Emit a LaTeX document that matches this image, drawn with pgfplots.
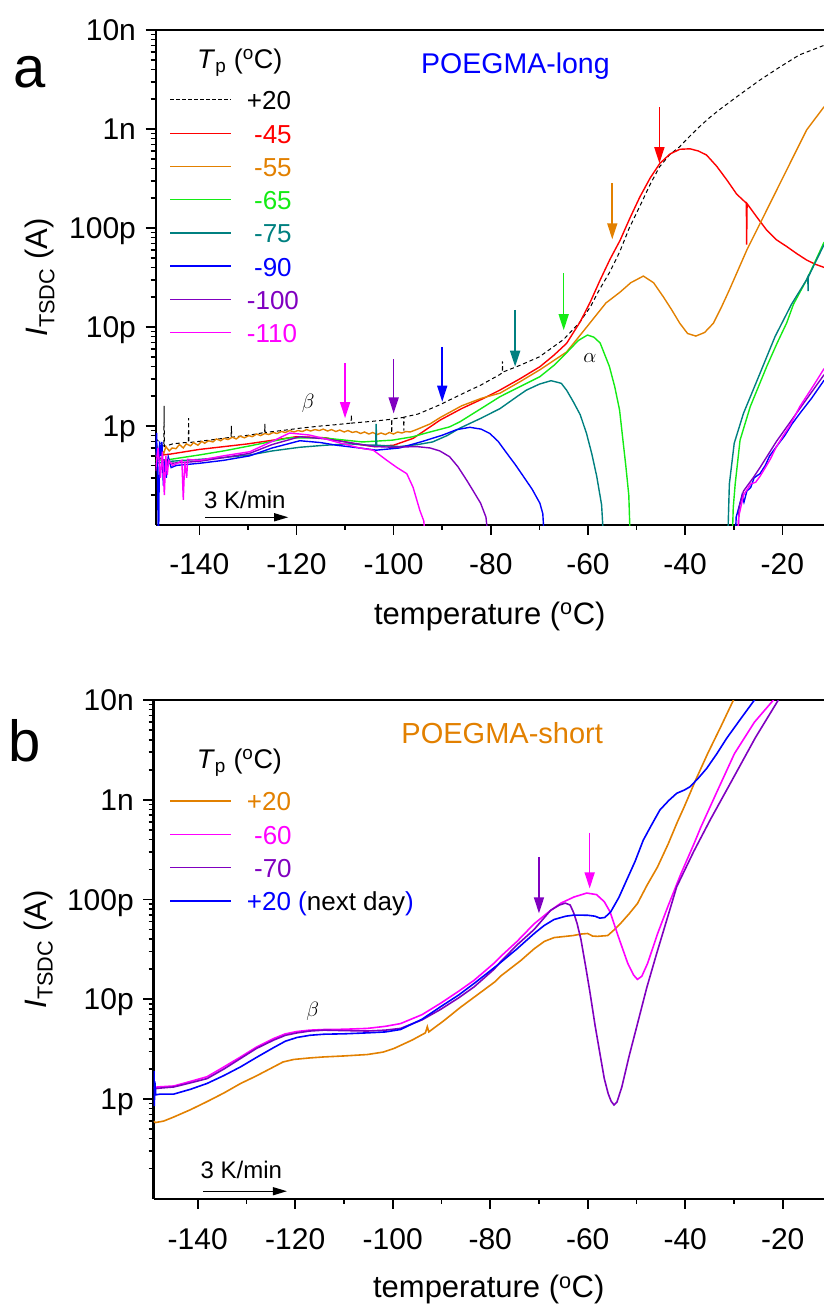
\documentclass[border=0pt]{standalone}
\usepackage{fontspec}
\setmainfont{Liberation Sans}
\usepackage{pgfplots}
\pgfplotsset{compat=1.18}
\usetikzlibrary{arrows.meta}
\definecolor{cred}{RGB}{255,0,0}
\definecolor{corange}{RGB}{226,128,0}
\definecolor{cgreen}{RGB}{20,235,20}
\definecolor{cteal}{RGB}{0,128,128}
\definecolor{cblue}{RGB}{0,0,255}
\definecolor{cpurple}{RGB}{128,0,192}
\definecolor{cmagenta}{RGB}{255,0,255}
\begin{document}
\begin{tikzpicture}[x=1pt,y=1pt]
\useasboundingbox (0,0) rectangle (824,1309);
% ================= panel a =================
\begin{axis}[at={(155.6pt,784pt)}, anchor=south west,
  width=668.4pt, height=495pt, xmin=-149, xmax=-11.42,
  scale only axis, ymode=log, ymin=1e-13, ymax=1e-8,
  axis x line=box, axis y line=left,
  axis line style={-, line width=2.2pt},
  xtick pos=left, xticklabel pos=left,
  xtick={-140,-120,-100,-80,-60,-40,-20},
  minor xtick={-130,-110,-90,-70,-50,-30},
  ytick={1e-12,1e-11,1e-10,1e-9,1e-8},
  yticklabels={1p,10p,100p,1n,10n},
  minor ytick={2e-13,3e-13,4e-13,5e-13,6e-13,7e-13,8e-13,9e-13,
               2e-12,3e-12,4e-12,5e-12,6e-12,7e-12,8e-12,9e-12,
               2e-11,3e-11,4e-11,5e-11,6e-11,7e-11,8e-11,9e-11,
               2e-10,3e-10,4e-10,5e-10,6e-10,7e-10,8e-10,9e-10,
               2e-9,3e-9,4e-9,5e-9,6e-9,7e-9,8e-9,9e-9},
  tick align=outside,
  major tick length=10pt, minor tick length=5pt,
  major tick style={black, line width=1.6pt},
  minor tick style={black, line width=1.6pt},
  /pgf/number format/assume math mode=true,
  tick label style={font=\fontsize{30}{36}\selectfont},
  xticklabel style={anchor=base, inner sep=0pt, yshift=-40pt},
  yticklabel style={anchor=east, inner sep=0pt, text height=21.5pt, text depth=0pt, xshift=-9.5pt},
  xlabel={temperature (\textsuperscript{o}C)},
  ylabel={\textit{I}\textsubscript{TSDC} (A)},
  label style={font=\fontsize{31}{37}\selectfont},
  ylabel style={at={(axis description cs:-0.173,0.5)}, anchor=center},
  xlabel style={at={(axis description cs:0.5,-0.2)}, anchor=base},
  every axis plot/.append style={line width=1.4pt}]
\addplot[black, line width=1pt, dash pattern=on 4pt off 3pt] coordinates {
(-149,0.75e-12)(-147.3,0.62e-12)(-147.25,1.6e-12)(-147.2,0.62e-12)(-145.5,0.66e-12)(-143,0.68e-12)(-142.25,0.68e-12)(-142.2,1.2e-12)(-142.15,0.68e-12)
(-140,0.7e-12)(-136,0.74e-12)(-133.45,0.77e-12)(-133.4,1.0e-12)(-133.35,0.77e-12)(-129.6,0.81e-12)(-126.55,0.86e-12)(-126.5,1.05e-12)(-126.45,0.86e-12)
(-123,0.9e-12)(-119.3,0.95e-12)(-115,1.0e-12)(-112,1.03e-12)(-108.75,1.07e-12)(-108.7,1.3e-12)(-108.65,1.07e-12)(-104,1.12e-12)
(-100.45,1.17e-12)(-100.4,0.85e-12)(-100.35,1.18e-12)(-97.95,1.22e-12)(-97.9,0.9e-12)(-97.85,1.23e-12)(-95,1.32e-12)(-90.6,1.63e-12)
(-86,2.1e-12)(-82,2.6e-12)(-78.2,3.3e-12)(-77.65,3.45e-12)(-77.6,4.5e-12)(-77.55,3.5e-12)(-74,4.1e-12)(-70,5.0e-12)(-65,7.5e-12)(-61.8,11e-12)
(-59.5,16e-12)(-57.7,23.6e-12)(-55.5,36e-12)(-53.5,57e-12)(-51.5,100e-12)(-49.4,163e-12)(-47.3,270e-12)(-45.3,413e-12)
(-43.2,550e-12)(-41.2,658e-12)(-39,850e-12)(-37.1,1.05e-9)(-35,1.3e-9)(-33,1.56e-9)(-28.9,2.2e-9)(-24.7,3.1e-9)(-20.6,4.2e-9)
(-16.5,5.6e-9)(-11.4,7.0e-9)};
\addplot[cred] coordinates {
(-149,0.5e-12)(-146,0.52e-12)(-140,0.58e-12)(-130,0.66e-12)(-120,0.78e-12)(-114,0.76e-12)(-108,0.66e-12)(-104,0.62e-12)
(-100,0.64e-12)(-96,0.75e-12)(-90.4,1.15e-12)(-86,1.5e-12)(-82,1.85e-12)(-78.1,2.31e-12)(-74,3.0e-12)(-69.9,3.97e-12)
(-67,5.2e-12)(-64.4,6.84e-12)(-61.6,11.3e-12)(-59.5,18e-12)(-57.5,29.8e-12)(-55.5,48e-12)(-53.4,75e-12)(-51.4,125e-12)
(-49.3,207e-12)(-47.2,320e-12)(-45.2,450e-12)(-43.1,560e-12)(-41.1,624e-12)(-39.0,631e-12)(-37.3,600e-12)(-35.6,546e-12)
(-33.5,420e-12)(-31.4,305e-12)(-29.4,220e-12)(-27.4,178e-12)(-27.35,68e-12)(-27.25,176e-12)(-25.3,130e-12)(-23.2,95e-12)
(-21.2,76e-12)(-19.1,65e-12)(-17,55e-12)(-15.0,47.5e-12)(-13.2,43e-12)(-11.4,40e-12)};
\addplot[corange] coordinates {
(-149,0.5e-12)(-148.6,0.6e-12)(-148.2,0.49e-12)(-147.8,0.58e-12)(-147.3,0.53e-12)(-146.9,0.62e-12)(-146.2,0.56e-12)(-145.6,0.6e-12)
(-144.8,0.59e-12)(-144.1,0.65e-12)(-143.3,0.6e-12)(-142.7,0.66e-12)(-141.8,0.63e-12)(-141.2,0.68e-12)(-140.3,0.64e-12)(-139.5,0.7e-12)
(-138.9,0.67e-12)(-138.1,0.71e-12)(-137.2,0.69e-12)(-136.5,0.74e-12)(-135.6,0.71e-12)(-134.9,0.75e-12)(-134.1,0.73e-12)(-133.2,0.77e-12)
(-132.4,0.74e-12)(-131.6,0.79e-12)(-130.7,0.76e-12)(-129.8,0.8e-12)(-129.1,0.78e-12)(-128.2,0.83e-12)(-127.4,0.8e-12)(-126.5,0.84e-12)
(-125.7,0.82e-12)(-124.8,0.86e-12)(-124,0.84e-12)(-123.1,0.88e-12)(-122.3,0.86e-12)(-121.4,0.9e-12)(-120.5,0.87e-12)(-119.7,0.9e-12)
(-118.8,0.88e-12)(-117.9,0.92e-12)(-117.1,0.89e-12)(-116.2,0.92e-12)(-115.3,0.9e-12)(-114.5,0.93e-12)(-113.6,0.89e-12)(-112.8,0.92e-12)
(-111.9,0.88e-12)(-111.1,0.91e-12)(-110.2,0.87e-12)(-109.4,0.9e-12)(-108.5,0.86e-12)(-107.7,0.88e-12)(-106.8,0.84e-12)(-106,0.87e-12)
(-105.1,0.83e-12)(-104.3,0.86e-12)(-103.4,0.82e-12)(-102.6,0.85e-12)(-101.7,0.82e-12)(-100.9,0.86e-12)(-100,0.83e-12)(-99.2,0.87e-12)
(-98.3,0.85e-12)(-97.5,0.88e-12)(-96.6,0.87e-12)(-95.3,0.92e-12)(-92.5,1.05e-12)(-90.4,1.22e-12)(-86,1.6e-12)(-82,1.9e-12)(-78.1,2.15e-12)(-74,2.8e-12)(-69.9,3.7e-12)
(-64.4,5.6e-12)(-60.4,9.8e-12)(-56.3,17.5e-12)(-53.4,22.5e-12)(-51.2,28e-12)(-48.6,32.7e-12)(-46.5,28e-12)(-44.5,20.2e-12)
(-42.8,15e-12)(-41.1,10.9e-12)(-39.5,8.6e-12)(-37.8,8.1e-12)(-36.0,8.8e-12)(-34.2,10.9e-12)(-32.5,16e-12)(-30.9,23.7e-12)
(-27.3,60e-12)(-23.2,152e-12)(-19.1,386e-12)(-15.0,977e-12)(-11.4,1.68e-9)};
\addplot[cgreen] coordinates {
(-149,0.45e-12)(-146,0.46e-12)(-140,0.51e-12)(-135,0.56e-12)(-129.6,0.63e-12)(-125,0.7e-12)(-121.4,0.76e-12)(-114.6,0.76e-12)
(-110,0.72e-12)(-106.4,0.69e-12)(-100.2,0.72e-12)(-96,0.78e-12)(-93.3,0.85e-12)(-88.5,0.98e-12)(-86.4,1.1e-12)(-82,1.5e-12)
(-78.1,1.98e-12)(-74,2.5e-12)(-69.9,3.15e-12)(-67,4.1e-12)(-64.4,5.5e-12)(-62,7.3e-12)(-60.1,8.3e-12)(-58.8,7.9e-12)
(-57.5,6.9e-12)(-55.6,4e-12)(-54.5,2.5e-12)(-53.5,1.45e-12)(-52.2,0.39e-12)(-51.6,0.2e-12)(-51.2,0.05e-12)};
\addplot[cteal] coordinates {
(-149,0.42e-12)(-146,0.44e-12)(-140,0.46e-12)(-135,0.48e-12)(-129.6,0.51e-12)(-125,0.56e-12)(-119.3,0.61e-12)(-114,0.64e-12)
(-109,0.66e-12)(-105,0.64e-12)(-103.7,0.64e-12)(-103.6,1.05e-12)(-103.5,0.64e-12)(-98.8,0.62e-12)(-95,0.65e-12)(-92,0.69e-12)
(-89,0.8e-12)(-86.4,0.95e-12)(-82,1.2e-12)(-78.1,1.5e-12)(-74.5,2.0e-12)(-72.7,2.3e-12)(-70,2.65e-12)(-67.6,2.87e-12)
(-65.5,2.7e-12)(-64.4,2.3e-12)(-63,1.75e-12)(-61.6,1.3e-12)(-60.3,0.84e-12)(-59.2,0.52e-12)(-58.2,0.31e-12)(-57.2,0.16e-12)(-56.6,0.05e-12)};
\addplot[cblue] coordinates {
(-149,0.5e-12)(-148.8,0.85e-12)(-148.6,0.3e-12)(-148.4,0.05e-12)(-148.2,0.7e-12)(-147.9,0.5e-12)(-147.7,0.69e-12)(-147.4,0.25e-12)
(-147.1,0.45e-12)(-146.8,0.3e-12)(-146.4,0.49e-12)(-145.8,0.38e-12)(-144.7,0.4e-12)(-140,0.42e-12)(-135,0.45e-12)(-129.6,0.5e-12)
(-125,0.6e-12)(-119.3,0.71e-12)(-115,0.68e-12)(-111.8,0.64e-12)(-107,0.6e-12)(-103.6,0.57e-12)(-98.8,0.6e-12)(-94,0.7e-12)
(-89.9,0.81e-12)(-87,0.92e-12)(-84.3,0.97e-12)(-82,0.93e-12)(-80.2,0.84e-12)(-78.5,0.7e-12)(-76.7,0.53e-12)(-75,0.41e-12)
(-73.3,0.31e-12)(-71.5,0.23e-12)(-69.9,0.166e-12)(-69.3,0.13e-12)(-68.8,0.05e-12)};
\addplot[cpurple] coordinates {
(-149,0.5e-12)(-146,0.42e-12)(-140,0.44e-12)(-135,0.48e-12)(-129.6,0.53e-12)(-125,0.65e-12)(-119.3,0.78e-12)(-114,0.74e-12)
(-109,0.68e-12)(-104,0.62e-12)(-100,0.61e-12)(-95.3,0.62e-12)(-92.5,0.6e-12)(-90.5,0.56e-12)(-88.5,0.49e-12)(-86.8,0.39e-12)
(-85.0,0.285e-12)(-83.6,0.22e-12)(-82.1,0.166e-12)(-81,0.12e-12)(-80.2,0.05e-12)};
\addplot[cmagenta] coordinates {
(-149,0.35e-12)(-148.5,0.6e-12)(-148,0.3e-12)(-147.6,0.55e-12)(-147.2,0.2e-12)(-146.9,0.5e-12)(-146.6,0.32e-12)(-146.3,0.45e-12)
(-145.5,0.4e-12)(-144.5,0.42e-12)(-143.6,0.45e-12)(-143.3,0.18e-12)(-143.0,0.44e-12)(-142.6,0.3e-12)(-142.4,0.46e-12)
(-140,0.45e-12)(-135,0.5e-12)(-129.6,0.55e-12)(-125,0.7e-12)(-121.4,0.85e-12)(-117.3,0.81e-12)(-114,0.74e-12)(-110.4,0.66e-12)
(-107,0.6e-12)(-104.2,0.57e-12)(-101.4,0.45e-12)(-99.3,0.38e-12)(-97.3,0.33e-12)(-96,0.24e-12)(-94.6,0.14e-12)(-93.8,0.11e-12)(-93.2,0.05e-12)};
% ---- right-hand branches
\addplot[cgreen] coordinates {
(-30.4,0.05e-12)(-30.1,0.15e-12)(-29.7,0.26e-12)(-28.7,0.72e-12)(-26.6,1.57e-12)(-23.2,4.0e-12)(-21.0,7e-12)(-19.1,11e-12)
(-17.7,17e-12)(-15.0,30e-12)(-13.6,42e-12)(-11.4,72e-12)};
\addplot[cteal] coordinates {
(-31.3,0.05e-12)(-31.1,0.12e-12)(-30.9,0.26e-12)(-29.9,0.67e-12)(-28.0,1.34e-12)(-24.6,3.4e-12)(-21.5,8e-12)(-18.1,17e-12)
(-15.0,30e-12)(-14.75,32e-12)(-14.7,23e-12)(-14.65,32e-12)(-13.6,41e-12)(-11.4,68e-12)};
\addplot[cblue] coordinates {
(-29.8,0.05e-12)(-29.5,0.12e-12)(-28.8,0.16e-12)(-28.3,0.2e-12)(-27.9,0.17e-12)(-27.3,0.22e-12)(-26.5,0.24e-12)(-25.8,0.3e-12)
(-24.6,0.33e-12)(-23.5,0.4e-12)(-22.6,0.5e-12)(-21.2,0.62e-12)(-19.5,0.8e-12)(-18,1.05e-12)(-16.4,1.34e-12)(-14,1.9e-12)(-11.4,2.9e-12)};
\addplot[cpurple] coordinates {
(-29.2,0.05e-12)(-28.9,0.15e-12)(-28,0.22e-12)(-26,0.3e-12)(-24.6,0.38e-12)(-21.2,0.7e-12)(-16.4,1.5e-12)(-11.4,3.3e-12)};
\addplot[cmagenta] coordinates {
(-29.4,0.05e-12)(-29,0.12e-12)(-28,0.2e-12)(-26.5,0.26e-12)(-25.5,0.27e-12)(-24.6,0.31e-12)(-23.5,0.38e-12)(-22.5,0.46e-12)
(-21.2,0.62e-12)(-19.8,0.8e-12)(-18.5,1.0e-12)(-16.4,1.57e-12)(-13.5,2.6e-12)(-11.4,3.8e-12)};
% arrows
\draw[cmagenta, line width=1.6pt, -{Triangle[length=16pt,width=10pt]}] (axis cs:-110,4.3e-12) -- (axis cs:-110,1.2e-12);
\draw[cpurple, line width=1.6pt, -{Triangle[length=16pt,width=10pt]}] (axis cs:-100,4.75e-12) -- (axis cs:-100,1.34e-12);
\draw[cblue, line width=1.6pt, -{Triangle[length=16pt,width=10pt]}] (axis cs:-90,6.3e-12) -- (axis cs:-90,1.76e-12);
\draw[cteal, line width=1.6pt, -{Triangle[length=16pt,width=10pt]}] (axis cs:-75,14.9e-12) -- (axis cs:-75,3.97e-12);
\draw[cgreen, line width=1.6pt, -{Triangle[length=16pt,width=10pt]}] (axis cs:-65,34.8e-12) -- (axis cs:-65,9.3e-12);
\draw[corange, line width=1.6pt, -{Triangle[length=16pt,width=10pt]}] (axis cs:-55,283e-12) -- (axis cs:-55,76.9e-12);
\draw[cred, line width=1.6pt, -{Triangle[length=16pt,width=10pt]}] (axis cs:-45.3,1.66e-9) -- (axis cs:-45.3,451e-12);
% texts
\node[font=\fontsize{22}{26}\selectfont] at (axis cs:-117.6,1.7e-12) {$\beta$};
\node[font=\fontsize{22}{26}\selectfont] at (axis cs:-59.6,4.83e-12) {$\alpha$};
\node[anchor=base west, inner sep=0pt, font=\fontsize{28.5}{34}\selectfont, text=cblue] at (axis cs:-94.37,3.655e-9) {POEGMA-long};
\node[anchor=base west, inner sep=0pt, font=\fontsize{24}{28}\selectfont] at (axis cs:-139.04,1.476e-13) {3 K/min};
\draw[black, line width=1.3pt, -{Triangle[length=14pt,width=8pt]}] (axis cs:-138.83,1.197e-13) -- (axis cs:-121.7,1.197e-13);
\end{axis}
% legend panel a
\begin{scope}[font=\fontsize{26}{31}\selectfont]
\node[anchor=base west, inner sep=0pt, font=\fontsize{27}{32}\selectfont] at (197,1240.7) {\textit{T}\textsubscript{p} (\textsuperscript{o}C)};
\draw[black, line width=1pt, dash pattern=on 3.5pt off 2.5pt] (170,1209) -- (231,1209);
\node[anchor=base west, inner sep=0pt] at (246.7,1199) {+20};
\draw[cred, line width=1.3pt] (170,1175.7) -- (231,1175.7);
\node[anchor=base west, inner sep=0pt, text=cred] at (246.7,1165.7) {\ -45};
\draw[corange, line width=1.3pt] (170,1142.5) -- (231,1142.5);
\node[anchor=base west, inner sep=0pt, text=corange] at (246.7,1132.5) {\ -55};
\draw[cgreen, line width=1.3pt] (170,1109.3) -- (231,1109.3);
\node[anchor=base west, inner sep=0pt, text=cgreen] at (246.7,1099.3) {\ -65};
\draw[cteal, line width=1.3pt] (170,1076.1) -- (231,1076.1);
\node[anchor=base west, inner sep=0pt, text=cteal] at (246.7,1066.1) {\ -75};
\draw[cblue, line width=1.3pt] (170,1042.9) -- (231,1042.9);
\node[anchor=base west, inner sep=0pt, text=cblue] at (246.7,1032.9) {\ -90};
\draw[cpurple, line width=1.3pt] (170,1009.7) -- (231,1009.7);
\node[anchor=base west, inner sep=0pt, text=cpurple] at (246.7,999.7) {-100};
\draw[cmagenta, line width=1.3pt] (170,976.5) -- (231,976.5);
\node[anchor=base west, inner sep=0pt, text=cmagenta] at (246.7,966.5) {-110};
\end{scope}
% ================= panel b =================
\begin{axis}[at={(153.5pt,110.3pt)}, anchor=south west,
  width=670.5pt, height=498.7pt, xmin=-149.07, xmax=-11.53,
  scale only axis, ymode=log, ymin=1e-13, ymax=1e-8,
  axis x line=box, axis y line=left,
  axis line style={-, line width=2.2pt},
  xtick pos=left, xticklabel pos=left,
  xtick={-140,-120,-100,-80,-60,-40,-20},
  minor xtick={-130,-110,-90,-70,-50,-30},
  ytick={1e-12,1e-11,1e-10,1e-9,1e-8},
  yticklabels={1p,10p,100p,1n,10n},
  minor ytick={2e-13,3e-13,4e-13,5e-13,6e-13,7e-13,8e-13,9e-13,
               2e-12,3e-12,4e-12,5e-12,6e-12,7e-12,8e-12,9e-12,
               2e-11,3e-11,4e-11,5e-11,6e-11,7e-11,8e-11,9e-11,
               2e-10,3e-10,4e-10,5e-10,6e-10,7e-10,8e-10,9e-10,
               2e-9,3e-9,4e-9,5e-9,6e-9,7e-9,8e-9,9e-9},
  tick align=outside,
  major tick length=10pt, minor tick length=5pt,
  major tick style={black, line width=1.6pt},
  minor tick style={black, line width=1.6pt},
  /pgf/number format/assume math mode=true,
  tick label style={font=\fontsize{30}{36}\selectfont},
  xticklabel style={anchor=base, inner sep=0pt, yshift=-40.5pt},
  yticklabel style={anchor=east, inner sep=0pt, text height=21.5pt, text depth=0pt, xshift=-9.5pt},
  xlabel={temperature (\textsuperscript{o}C)},
  ylabel={\textit{I}\textsubscript{TSDC} (A)},
  label style={font=\fontsize{31}{37}\selectfont},
  ylabel style={at={(axis description cs:-0.172,0.5)}, anchor=center},
  xlabel style={at={(axis description cs:0.5,-0.1977)}, anchor=base},
  every axis plot/.append style={line width=1.6pt}]
\addplot[corange] coordinates {
(-149,0.6e-12)(-148.7,0.58e-12)(-147,0.6e-12)(-144.9,0.66e-12)(-141.5,0.78e-12)(-138.1,0.94e-12)(-134.6,1.15e-12)(-131.2,1.43e-12)
(-128,1.7e-12)(-124.4,2.1e-12)(-122.5,2.35e-12)(-120.3,2.49e-12)(-117,2.58e-12)(-114.1,2.64e-12)(-110,2.7e-12)(-105.2,2.79e-12)
(-102,2.95e-12)(-99.8,3.2e-12)(-96,3.9e-12)(-93.3,4.6e-12)(-92.9,5.3e-12)(-92.6,4.7e-12)(-89.5,6.1e-12)(-86.1,8.3e-12)
(-82.5,11.2e-12)(-79,15e-12)(-77.9,17e-12)(-73.7,24.5e-12)(-71,32e-12)(-68.9,38e-12)(-66.9,41.5e-12)(-63,43.5e-12)
(-61.4,45e-12)(-60,45.6e-12)(-59,43e-12)(-58,42.7e-12)(-55.9,43.5e-12)(-54.5,50e-12)(-53.2,58e-12)(-51.5,72e-12)
(-49.8,91e-12)(-47.8,140e-12)(-45.7,211e-12)(-43.5,360e-12)(-41.6,600e-12)(-40.2,850e-12)(-37.8,1.6e-9)(-35.4,2.9e-9)
(-32.7,5.4e-9)(-30.1,10e-9)(-29,12e-9)};
\addplot[cmagenta] coordinates {
(-149,1.3e-12)(-148.2,1.32e-12)(-144.9,1.35e-12)(-141.5,1.5e-12)(-138.1,1.67e-12)(-134.6,2.1e-12)(-131.2,2.64e-12)(-128,3.3e-12)
(-124.4,4.04e-12)(-122,4.5e-12)(-119.6,4.75e-12)(-117,4.9e-12)(-114.1,4.97e-12)(-110,5.0e-12)(-105.2,5.1e-12)(-101.5,5.35e-12)
(-98.4,5.7e-12)(-94,7e-12)(-90.2,9.1e-12)(-86.5,12e-12)(-83.3,15.5e-12)(-79.2,23e-12)(-77.9,26.7e-12)(-74.5,38e-12)
(-71,57e-12)(-68,75e-12)(-65.5,92e-12)(-62.8,106e-12)(-60.2,116e-12)(-58.2,112e-12)(-56.6,95e-12)(-55.4,75e-12)
(-53.9,45e-12)(-51.8,23e-12)(-50.6,17.5e-12)(-49.8,15.8e-12)(-48.9,17e-12)(-47.7,23e-12)(-45.7,45e-12)(-43.6,84e-12)
(-40.9,180e-12)(-38.2,362e-12)(-36.8,530e-12)(-33.5,1.2e-9)(-29.9,2.9e-9)(-25.8,6e-9)(-21.9,10e-9)(-21,11.5e-9)};
\addplot[cpurple] coordinates {
(-149,1.25e-12)(-148.2,1.28e-12)(-144.9,1.32e-12)(-141.5,1.45e-12)(-138.1,1.6e-12)(-134.6,2.0e-12)(-131.2,2.55e-12)(-128,3.2e-12)
(-124.4,3.9e-12)(-122,4.35e-12)(-119.6,4.6e-12)(-117,4.8e-12)(-114.1,4.9e-12)(-110,4.85e-12)(-105.2,4.8e-12)(-101.5,4.9e-12)
(-98.4,5.1e-12)(-94,6.2e-12)(-90.2,7.9e-12)(-86.5,10.3e-12)(-83.3,13.3e-12)(-79.2,20e-12)(-77.9,23.7e-12)(-74.5,35e-12)
(-71,50e-12)(-67.6,78e-12)(-65.8,88e-12)(-64.6,92e-12)(-63.6,88e-12)(-62.9,74e-12)(-62.2,58e-12)(-61.4,40e-12)(-60.4,21e-12)
(-59.5,11.4e-12)(-58.5,5.5e-12)(-57.5,2.86e-12)(-56.6,1.6e-12)(-55.8,1.13e-12)(-55.2,0.95e-12)(-54.6,0.87e-12)(-54.0,0.93e-12)
(-53.0,1.32e-12)(-51.5,2.7e-12)(-49.95,5.3e-12)(-47.9,13e-12)(-45.85,28.8e-12)(-43.8,62e-12)(-41.75,134e-12)(-38.3,300e-12)
(-34.9,625e-12)(-30.3,1.6e-9)(-25.6,4.2e-9)(-20.9,10e-9)(-20,11.5e-9)};
\addplot[cblue] coordinates {
(-149,1.2e-12)(-148.95,1.9e-12)(-148.9,0.85e-12)(-148.8,1.5e-12)(-148.6,1.1e-12)(-147.7,1.12e-12)(-144.9,1.12e-12)(-141.5,1.25e-12)
(-138.1,1.43e-12)(-134.6,1.72e-12)(-131.2,2.1e-12)(-128,2.6e-12)(-124.4,3.28e-12)(-122,3.8e-12)(-119.6,4.14e-12)(-117,4.35e-12)
(-114.1,4.46e-12)(-110,4.5e-12)(-105.2,4.6e-12)(-101.5,4.7e-12)(-98.4,4.97e-12)(-94,6.3e-12)(-90.2,8.4e-12)(-86.5,11e-12)
(-83.3,14.4e-12)(-78.5,22e-12)(-74.5,32e-12)(-71,45.5e-12)(-68.9,55e-12)(-66.9,63e-12)(-64.5,68e-12)(-62.8,69.8e-12)
(-60,69.5e-12)(-58.5,68e-12)(-57.5,65e-12)(-56.5,66e-12)(-55.3,75e-12)(-53.6,105e-12)(-52.0,157e-12)(-50.3,240e-12)
(-48.6,394e-12)(-46.9,560e-12)(-45.2,789e-12)(-43.4,980e-12)(-41.75,1.16e-9)(-40.2,1.25e-9)(-39.0,1.35e-9)(-37.3,1.65e-9)
(-35.6,2.06e-9)(-33.5,2.9e-9)(-31.5,4.13e-9)(-28.6,6.5e-9)(-25.8,10e-9)(-25,11.5e-9)};
\draw[cpurple, line width=1.6pt, -{Triangle[length=16pt,width=10pt]}] (axis cs:-70,264e-12) -- (axis cs:-70,72.6e-12);
\draw[cmagenta, line width=1.6pt, -{Triangle[length=16pt,width=10pt]}] (axis cs:-59.6,467e-12) -- (axis cs:-59.6,129e-12);
\node[font=\fontsize{22}{26}\selectfont] at (axis cs:-116.4,7.5e-12) {$\beta$};
\node[anchor=base west, inner sep=0pt, font=\fontsize{29}{34}\selectfont, text=corange] at (axis cs:-98.24,3.68e-9) {POEGMA-short};
\node[anchor=base west, inner sep=0pt, font=\fontsize{24}{28}\selectfont] at (axis cs:-139.43,1.595e-13) {3 K/min};
\draw[black, line width=1.3pt, -{Triangle[length=14pt,width=8pt]}] (axis cs:-138.9,1.189e-13) -- (axis cs:-121.7,1.189e-13);
\end{axis}
% legend panel b
\begin{scope}[font=\fontsize{26}{31}\selectfont]
\node[anchor=base west, inner sep=0pt, font=\fontsize{27}{32}\selectfont] at (196.7,540.7) {\textit{T}\textsubscript{p} (\textsuperscript{o}C)};
\draw[corange, line width=1.3pt] (170,508) -- (230.7,508);
\node[anchor=base west, inner sep=0pt, text=corange] at (246.7,498) {+20};
\draw[cmagenta, line width=1.3pt] (170,474.7) -- (230.7,474.7);
\node[anchor=base west, inner sep=0pt, text=cmagenta] at (246.7,464.7) {\ -60};
\draw[cpurple, line width=1.3pt] (170,441.4) -- (230.7,441.4);
\node[anchor=base west, inner sep=0pt, text=cpurple] at (246.7,431.4) {\ -70};
\draw[cblue, line width=1.3pt] (170,408.1) -- (230.7,408.1);
\node[anchor=base west, inner sep=0pt] at (246.7,398.1) {\textcolor{cblue}{+20 (}next day\textcolor{cblue}{)}};
\end{scope}
\node[anchor=base west, inner sep=0pt, font=\fontsize{58}{60}\selectfont] at (13,1221) {a};
\node[anchor=base west, inner sep=0pt, font=\fontsize{58}{60}\selectfont] at (8,547.3) {b};
\end{tikzpicture}
\end{document}
